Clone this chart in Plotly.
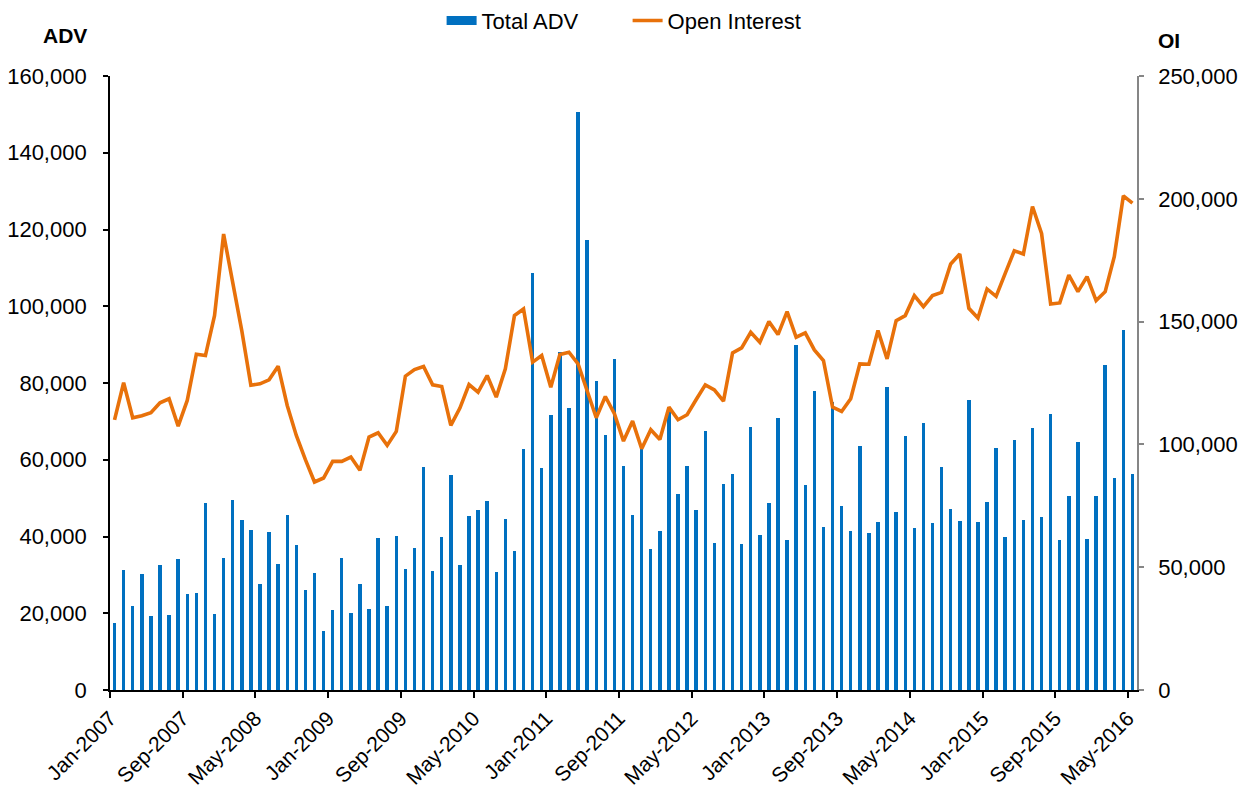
import plotly.graph_objects as go
import pandas as pd

months = [d.strftime("%b-%Y") for d in pd.date_range("2007-01-01", "2016-05-01", freq="MS")]

total_adv = [
    17500, 31200, 21900, 30350, 19170, 32500, 19430, 34250, 24900, 25400, 48650, 19860,
    34340, 49600, 44230, 41630, 27750, 41100, 32950, 45530, 37800, 26000, 30620, 15270,
    20900, 34520, 19950, 27580, 21000, 39630, 21850, 40240, 31480, 36940, 58100, 31040,
    39890, 56110, 32700, 45350, 47000, 49170, 30780, 44570, 36240, 62700, 108750, 57840,
    71540, 88110, 73370, 150630, 117150, 80470, 66340, 86290, 58280, 45530, 63300, 36680,
    41450, 73710, 50990, 58360, 46830, 67560, 38420, 53680, 56370, 38160, 68510, 40320,
    48820, 70940, 39200, 90010, 53420, 77790, 42490, 75100, 48040, 41370, 63650, 41020,
    43710, 78910, 46480, 66170, 42150, 69550, 43620, 58020, 47260, 44140, 75540, 43880,
    49000, 63040, 39890, 65120, 44400, 68160, 45010, 71980, 39200, 50470, 64600, 39370,
    50640, 84730, 55150, 93920, 56370,
]

open_interest = [
    110000, 125080, 110840, 111650, 112870, 116940, 118570, 107450, 117890, 136720, 136180, 152440,
    185640, 166670, 146340, 124110, 124660, 126290, 131840, 115850, 103660, 93770, 84690, 86320,
    93090, 93090, 94850, 89430, 102980, 104740, 99590, 105280, 127780, 130490, 131710, 124260,
    123580, 107720, 114770, 124390, 121280, 128050, 119240, 130760, 152440, 155150, 133470, 136180,
    123310, 136590, 137540, 132800, 121950, 110840, 119510, 112480, 101360, 109480, 98240, 105960,
    102030, 115170, 110030, 112060, 118290, 124260, 122220, 117620, 137260, 139300, 145670, 141600,
    150000, 144720, 154070, 143630, 145400, 138490, 134150, 115170, 113410, 118570, 132800, 132660,
    146340, 134830, 150410, 152440, 160570, 156100, 160570, 161920, 173440, 177510, 155420, 151490,
    163290, 160300, 169640, 178860, 177510, 196870, 185890, 157190, 157600, 168970, 162190, 168290,
    158540, 162190, 176420, 201220, 198250,
]

tick_labels = ["Jan-2007", "Sep-2007", "May-2008", "Jan-2009", "Sep-2009", "May-2010",
               "Jan-2011", "Sep-2011", "May-2012", "Jan-2013", "Sep-2013", "May-2014",
               "Jan-2015", "Sep-2015", "May-2016"]

idx = list(range(len(months)))
tick_pos = [months.index(t) - 0.5 for t in tick_labels]

BLUE = "#0070C0"
ORANGE = "#E8710A"
GRAY = "#868686"
FONT = "Liberation Sans, Arial, sans-serif"

fig = go.Figure()
fig.add_trace(go.Bar(x=idx, y=total_adv, name="Total ADV", marker=dict(color=BLUE, line_width=0),
                     width=0.38, customdata=months, yaxis="y", showlegend=False,
                     legendgroup="adv"))
# legend swatch for the bar series (wide rectangle like the original)
fig.add_trace(go.Scatter(x=[None], y=[None], name="Total ADV", mode="lines",
                         line=dict(color=BLUE, width=9), legendgroup="adv", showlegend=True))
fig.add_trace(go.Scatter(x=idx, y=open_interest, name="Open Interest", mode="lines",
                         line=dict(color=ORANGE, width=3.6), yaxis="y2"))

fig.update_layout(
    width=1255, height=790,
    margin=dict(l=102, r=126, t=68, b=108, autoexpand=False),
    paper_bgcolor="white", plot_bgcolor="white",
    font=dict(family=FONT, size=20, color="#000000"),
    showlegend=True,
    legend=dict(orientation="h", x=0.504, xanchor="center", y=1.09, yanchor="middle",
                font=dict(size=22), itemwidth=30, entrywidth=141, tracegroupgap=0,
                traceorder="normal", bgcolor="rgba(0,0,0,0)"),
    bargap=0,
    xaxis=dict(range=[-0.5, len(months) - 0.5], tickmode="array", tickvals=tick_pos,
               ticktext=tick_labels, tickangle=-45, showgrid=False, zeroline=False,
               showline=True, linecolor="#000000", linewidth=1.5, ticks="outside",
               ticklen=6, tickcolor="#000000", tickwidth=1.5, tickfont=dict(size=21),
               automargin=False),
    yaxis=dict(range=[0, 160000], dtick=20000, tickformat=",", showgrid=False, zeroline=False,
               showline=True, linecolor="#000000", linewidth=1.8, ticks="outside", ticklen=5,
               tickcolor="#000000", tickwidth=1.5, tickfont=dict(size=22), automargin=False,
               ticklabelstandoff=12),
    yaxis2=dict(range=[0, 250000], dtick=50000, tickformat=",", overlaying="y", side="right",
                showgrid=False, zeroline=False, showline=True, linecolor=GRAY, linewidth=1.5,
                ticks="outside", ticklen=5, tickcolor=GRAY, tickwidth=1.5,
                tickfont=dict(size=22), automargin=False, ticklabelstandoff=10),
    annotations=[
        dict(text="<b>ADV</b>", xref="paper", yref="paper", x=-0.0438, y=1.066,
             showarrow=False, font=dict(size=21), xanchor="center", yanchor="middle"),
        dict(text="<b>OI</b>", xref="paper", yref="paper", x=1.0312, y=1.058,
             showarrow=False, font=dict(size=21), xanchor="center", yanchor="middle"),
    ],
)

fig.write_html("out.html")
